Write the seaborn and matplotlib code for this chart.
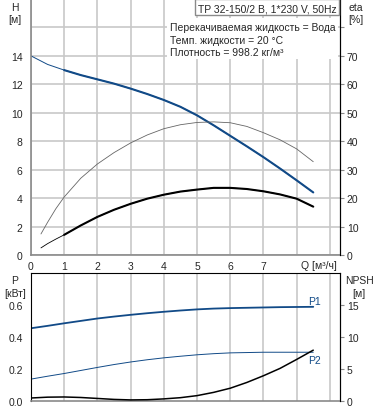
import numpy as np
import pandas as pd
import matplotlib
matplotlib.use("Agg")
import matplotlib.pyplot as plt
from matplotlib.patches import Rectangle
import seaborn as sns

sns.set_style("white")
plt.rcParams["font.family"] = ["Liberation Sans", "DejaVu Sans"]
plt.rcParams["font.size"] = 7.5

# ---- data ----
q = [0.0, 0.5, 1.0, 1.5, 2.0, 2.5, 3.0, 3.5, 4.0, 4.5, 5.0, 5.5, 6.0, 6.5, 7.0, 7.5, 8.0, 8.5]
head = [14.0, 13.4, 13.0, 12.65, 12.35, 12.05, 11.7, 11.32, 10.9, 10.42, 9.82, 9.12, 8.38, 7.64, 6.88, 6.08, 5.25, 4.4]

q_eta = [0.3, 0.5, 0.75, 1.0, 1.5, 2.0, 2.5, 3.0, 3.5, 4.0, 4.5, 5.0, 5.5, 6.0, 6.5, 7.0, 7.5, 8.0, 8.5]
eta_pump = [7.4, 11.5, 16.3, 20.4, 27.0, 32.0, 36.0, 39.4, 42.2, 44.4, 45.8, 46.6, 46.8, 46.5, 45.2, 43.0, 40.5, 37.3, 32.8]
eta_total = [2.5, 4.0, 5.6, 7.1, 10.4, 13.4, 15.9, 18.0, 19.8, 21.2, 22.3, 23.0, 23.6, 23.6, 23.2, 22.4, 21.3, 19.8, 17.0]

p1 = [0.455, 0.47, 0.486, 0.501, 0.516, 0.528, 0.539, 0.549, 0.558, 0.566, 0.573, 0.578, 0.581, 0.583, 0.585, 0.587, 0.588, 0.589]
p2 = [0.137, 0.155, 0.172, 0.191, 0.21, 0.228, 0.244, 0.258, 0.27, 0.28, 0.289, 0.296, 0.301, 0.303, 0.305, 0.305, 0.305, 0.305]
npsh = [0.47, 0.6, 0.63, 0.55, 0.4, 0.25, 0.17, 0.2, 0.33, 0.52, 0.84, 1.35, 2.0, 2.9, 3.95, 5.1, 6.5, 7.95]

x_ticks = [0, 1, 2, 3, 4, 5, 6, 7, 8, 9]
x_labels = ["0", "1", "2", "3", "4", "5", "6", "7", "", ""]

BLUE = "#114a87"
GRID = "#c8c8c8"
SPINE = "#8a8a8a"
W, H = 378, 410


def fx(px):
    return px / W


def fy(py):
    return 1 - py / H


df = pd.DataFrame({"Q": q, "H": head, "P1": p1, "P2": p2, "NPSH": npsh})
df_eta = pd.DataFrame({"Q": q_eta, "eta_pump": eta_pump, "eta_total": eta_total})

fig = plt.figure(figsize=(3.78, 4.10), dpi=100)

# ============================================================
# TOP PANEL: H and eta
# ============================================================
ax1 = fig.add_axes([0.082, 0.3756, 0.817, 0.6244])
ax1.set_xlim(0, 9.3)
ax1.set_ylim(0, 18)
ax1.set_yticks(range(0, 18, 2))
ax1.set_yticklabels([str(v) for v in range(0, 16, 2)] + [""])
ax1.set_yticks([4, 8, 12, 16], minor=True)
ax1.set_xticks(x_ticks)
ax1.set_xticklabels(x_labels)
ax1.grid(True, which="major", color=GRID, linewidth=1.2)
ax1.set_axisbelow(True)
ax1.tick_params(axis="y", which="major", length=0, pad=6)
ax1.tick_params(axis="y", which="minor", length=3, color="black", width=0.8)
ax1.tick_params(axis="x", length=3, color=SPINE, pad=1)
for s in ["left", "bottom"]:
    ax1.spines[s].set_color(SPINE)
    ax1.spines[s].set_linewidth(1.2)
ax1.spines["top"].set_visible(False)
ax1.spines["right"].set_color("black")

sns.lineplot(data=df, x="Q", y="H", ax=ax1, color=BLUE, linewidth=0.7, sort=False)
sns.lineplot(data=df[df["Q"] >= 0.9], x="Q", y="H", ax=ax1, color=BLUE, linewidth=1.5, sort=False)
ax1.set_xlabel("")
ax1.set_ylabel("")

ax1r = ax1.twinx()
ax1r.set_ylim(0, 90)
ax1r.set_yticks(range(0, 90, 10))
ax1r.set_yticklabels([str(v) for v in range(0, 80, 10)] + [""])
ax1r.tick_params(axis="y", length=3, color=SPINE, pad=2)
ax1r.spines["top"].set_visible(False)
ax1r.spines["left"].set_visible(False)
ax1r.spines["bottom"].set_visible(False)
ax1r.spines["right"].set_color("black")
sns.lineplot(data=df_eta, x="Q", y="eta_pump", ax=ax1r, color="#666666", linewidth=0.6, sort=False)
sns.lineplot(data=df_eta, x="Q", y="eta_total", ax=ax1r, color="black", linewidth=0.6, sort=False)
sns.lineplot(data=df_eta[df_eta["Q"] >= 0.9], x="Q", y="eta_total", ax=ax1r,
             color="black", linewidth=1.5, sort=False)
ax1r.set_ylabel("")

# ============================================================
# BOTTOM PANEL: P1/P2 and NPSH
# ============================================================
ax2 = fig.add_axes([0.082, 0.0195, 0.817, 0.312])
ax2.set_xlim(0, 9.3)
ax2.set_ylim(0, 0.8)
ax2.set_yticks([0.0, 0.2, 0.4, 0.6])
ax2.set_yticklabels(["0.0", "0.2", "0.4", "0.6"])
ax2.set_xticks(x_ticks[1:])
ax2.set_xticklabels([])
ax2.grid(True, axis="x", color=GRID, linewidth=1.2)
ax2.set_axisbelow(True)
ax2.tick_params(axis="y", length=0, pad=6)
ax2.tick_params(axis="x", length=0)
ax2.spines["bottom"].set_color(SPINE)
ax2.spines["bottom"].set_linewidth(1.2)
for s in ["left", "top", "right"]:
    ax2.spines[s].set_color("black")

sns.lineplot(data=df, x="Q", y="P1", ax=ax2, color=BLUE, linewidth=1.3, sort=False)
sns.lineplot(data=df, x="Q", y="P2", ax=ax2, color=BLUE, linewidth=0.7, sort=False)
ax2.set_xlabel("")
ax2.set_ylabel("")
ax2.text(8.55, 0.606, "P1", color=BLUE, ha="center", va="baseline")
ax2.text(8.55, 0.235, "P2", color=BLUE, ha="center", va="baseline")

ax2r = ax2.twinx()
ax2r.set_ylim(0, 20)
ax2r.set_yticks([0, 5, 10, 15])
ax2r.tick_params(axis="y", length=3, color=SPINE, pad=2)
for s in ["left", "bottom", "top"]:
    ax2r.spines[s].set_visible(False)
ax2r.spines["right"].set_color("black")
sns.lineplot(data=df, x="Q", y="NPSH", ax=ax2r, color="black", linewidth=1.1, sort=False)
ax2r.set_ylabel("")

# ============================================================
# LABELS AND INFO BOXES
# ============================================================
fig.text(fx(15), fy(11), "H", ha="center", va="baseline")
fig.text(fx(15), fy(23), "[м]", ha="center", va="baseline")
fig.text(fx(356), fy(11), "eta", ha="center", va="baseline")
fig.text(fx(356), fy(23), "[%]", ha="center", va="baseline")
fig.text(fx(319), fy(269), "Q [м³/ч]", ha="center", va="baseline")
fig.text(fx(15), fy(284), "P", ha="center", va="baseline")
fig.text(fx(15), fy(297), "[кВт]", ha="center", va="baseline")
fig.text(fx(359), fy(284), "NPSH", ha="center", va="baseline")
fig.text(fx(359), fy(297), "[м]", ha="center", va="baseline")

# title box
fig.patches.append(Rectangle((fx(195), fy(16)), fx(339) - fx(195), fy(0) - fy(16),
                             transform=fig.transFigure, facecolor="white",
                             edgecolor=SPINE, linewidth=1.0, zorder=5))
fig.text(fx(267), fy(12), "TP 32-150/2 B, 1*230 V, 50Hz", ha="center", va="baseline", zorder=6)

# liquid info box
fig.patches.append(Rectangle((fx(167), fy(60)), fx(338) - fx(167), fy(19) - fy(60),
                             transform=fig.transFigure, facecolor="white",
                             edgecolor="none", zorder=5))
info = ["Перекачиваемая жидкость = Вода", "Темп. жидкости = 20 °C", "Плотность = 998.2 кг/м³"]
for i, line in enumerate(info):
    fig.text(fx(170), fy(31 + 12.5 * i), line, ha="left", va="baseline", zorder=6)

fig.savefig("out.png", dpi=100)
